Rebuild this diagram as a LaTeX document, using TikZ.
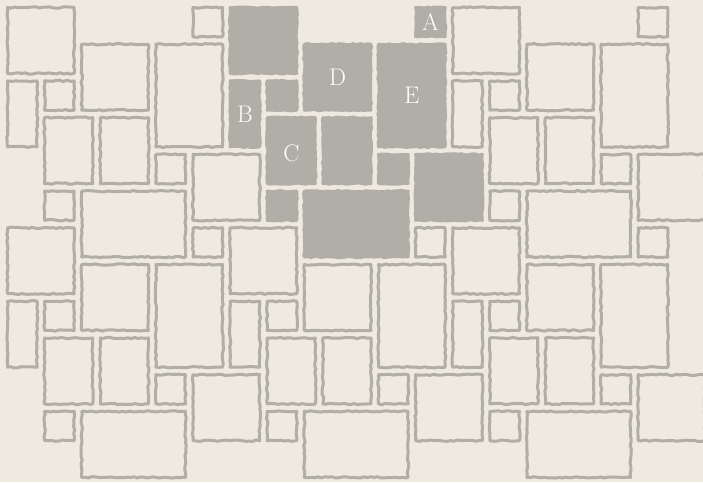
\documentclass[tikz,border=0pt]{standalone}
\usetikzlibrary{decorations.pathmorphing}
\definecolor{bgcream}{HTML}{EEEAE0}
\definecolor{stonegray}{HTML}{B1ADA7}
\tikzset{
  rough/.style={decorate, decoration={random steps, segment length=3.5pt, amplitude=0.7pt}},
  lightstone/.style={rough, fill=bgcream, draw=stonegray, line width=3pt, line join=round},
  darkstone/.style={rough, fill=stonegray, draw=stonegray, line width=3pt, line join=round},
  lbl/.style={text=white, font=\fontsize{24}{24}\selectfont, inner sep=0pt}
}
\begin{document}
\begin{tikzpicture}[x=18.55pt, y=-18.36pt]
\pgfmathsetseed{7}
\useasboundingbox (-3.75pt,3.75pt) rectangle (699.25pt,-478.25pt);
\fill[bgcream] (-3.75pt,3.75pt) rectangle (699.25pt,-478.25pt);
\begin{scope}
\clip (-3.75pt,3.75pt) rectangle (699.25pt,-478.25pt);
\foreach \ci/\cj/\sty in {0/0/lightstone,1/0/darkstone,2/0/lightstone,0/1/lightstone,1/1/lightstone,2/1/lightstone}{
  \foreach \i/\j/\w/\h in {0/0/4/4, 0/4/2/4, 2/4/2/2, 4/2/4/4, 8/2/4/6, 10/0/2/2, 2/6/3/4, 5/6/3/4, 2/10/2/2, 4/10/6/4, 8/8/2/2, 10/8/4/4}{
    \draw[\sty] ([shift={(3.75pt,-3.75pt)}]{12*\ci+\i},{12*\cj+\j}) rectangle ([shift={(-3.75pt,3.75pt)}]{12*\ci+\i+\w},{12*\cj+\j+\h});
  }
}
\end{scope}
\node[lbl] (la) at (23,1) {A};
\node[lbl] (lb) at (13,6) {B};
\node[lbl] (lc) at (15.5,8.15) {C};
\node[lbl] (ld) at (18,4) {D};
\node[lbl] (le) at (22,5) {E};
\end{tikzpicture}
\end{document}
